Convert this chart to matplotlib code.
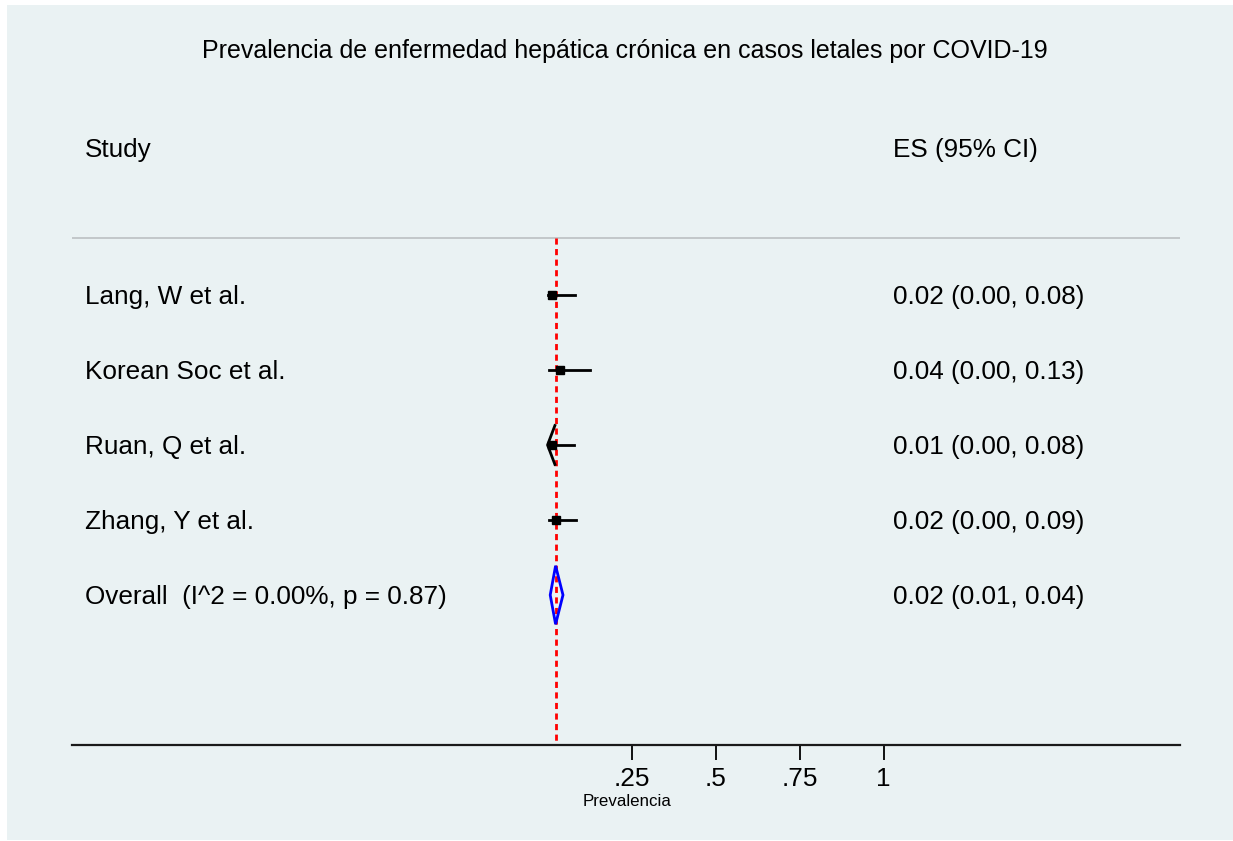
import numpy as np
import matplotlib
matplotlib.use('Agg')
import matplotlib.pyplot as plt
from matplotlib.patches import Rectangle, Polygon
from matplotlib.transforms import blended_transform_factory

plt.rcParams['font.family'] = ['Liberation Sans', 'DejaVu Sans']

# datos del forest plot
studies = ['Lang, W et al.', 'Korean Soc et al.', 'Ruan, Q et al.', 'Zhang, Y et al.']
es = [0.014, 0.037, 0.013, 0.024]
ci_lo = [0.00, 0.005, 0.00, 0.005]
ci_hi = [0.082, 0.126, 0.079, 0.085]
es_labels = ['0.02 (0.00, 0.08)', '0.04 (0.00, 0.13)', '0.01 (0.00, 0.08)', '0.02 (0.00, 0.09)']
truncated_lo = [False, False, True, False]

overall_es = 0.024
overall_lo = 0.008
overall_hi = 0.046
overall_label = 'Overall  (I^2 = 0.00%, p = 0.87)'
overall_es_label = '0.02 (0.01, 0.04)'

xticks = [0.25, 0.5, 0.75, 1.0]
xtick_labels = ['.25', '.5', '.75', '1']

bg = '#EAF2F3'
W, H = 1233, 841
fs = 18.8
dy = 0.03  # pequeño ajuste vertical del texto

fig = plt.figure(figsize=(W / 100, H / 100), dpi=100, facecolor='white')
fig.patches.append(Rectangle((7 / W, 1 / H), 1 - 7 / W, 1 - 6 / H, transform=fig.transFigure,
                             facecolor=bg, edgecolor='none', zorder=-10))

ax = fig.add_axes([72 / W, 1 - 745 / H, 1108 / W, 675 / H])
ax.set_facecolor(bg)
ax.set_xlim(-1.415, 1.882)
ax.set_ylim(6, -3)

for s in ['top', 'right', 'left']:
    ax.spines[s].set_visible(False)
ax.spines['bottom'].set_linewidth(1.6)
ax.spines['bottom'].set_color('#1a1a1a')
ax.set_yticks([])
ax.set_xticks(xticks)
ax.set_xticklabels(xtick_labels, fontsize=fs)
ax.tick_params(axis='x', length=11, width=1.3, pad=5, colors='black')

tr = ax.get_yaxis_transform()

# cabecera
ax.text(0.0117, -1.96 + dy, 'Study', transform=tr, fontsize=fs, va='center')
ax.text(0.741, -1.96 + dy, 'ES (95% CI)', transform=tr, fontsize=fs, va='center')
ax.plot([0, 1], [-0.76, -0.76], transform=tr, color='#bfc4c6', lw=1.3)

# línea del efecto global
ax.plot([overall_es, overall_es], [-0.76, 6], color='red', ls=(0, (2.2, 1.6)), lw=2, zorder=2)

for i, name in enumerate(studies):
    ax.text(0.0117, i + dy, name, transform=tr, fontsize=fs, va='center')
    ax.text(0.741, i + dy, es_labels[i], transform=tr, fontsize=fs, va='center')
    ax.plot([ci_lo[i], ci_hi[i]], [i, i], color='black', lw=2, zorder=3)
    ax.plot(es[i], i, marker='s', color='black', ms=6, zorder=4)
    if truncated_lo[i]:
        d = 0.022
        ax.plot([ci_lo[i] + d, ci_lo[i], ci_lo[i] + d], [i - 0.26, i, i + 0.26],
                color='black', lw=2, zorder=3)

# diamante global
k = len(studies)
ax.add_patch(Polygon([[overall_lo, k], [overall_es, k - 0.39], [overall_hi, k], [overall_es, k + 0.39]],
                     closed=True, fill=False, edgecolor='blue', lw=2, zorder=5))
ax.text(0.0117, k + dy, overall_label, transform=tr, fontsize=fs, va='center')
ax.text(0.741, k + dy, overall_es_label, transform=tr, fontsize=fs, va='center')

# etiquetas
fig.text(625 / W, 1 - 51 / H, 'Prevalencia de enfermedad hepática crónica en casos letales por COVID-19',
         ha='center', va='center', fontsize=18)
ax.text(0.237, 1 - 801 / H, 'Prevalencia',
        transform=blended_transform_factory(ax.transData, fig.transFigure),
        ha='center', va='center', fontsize=12.2)

fig.savefig('out.png', dpi=100, facecolor='white')
